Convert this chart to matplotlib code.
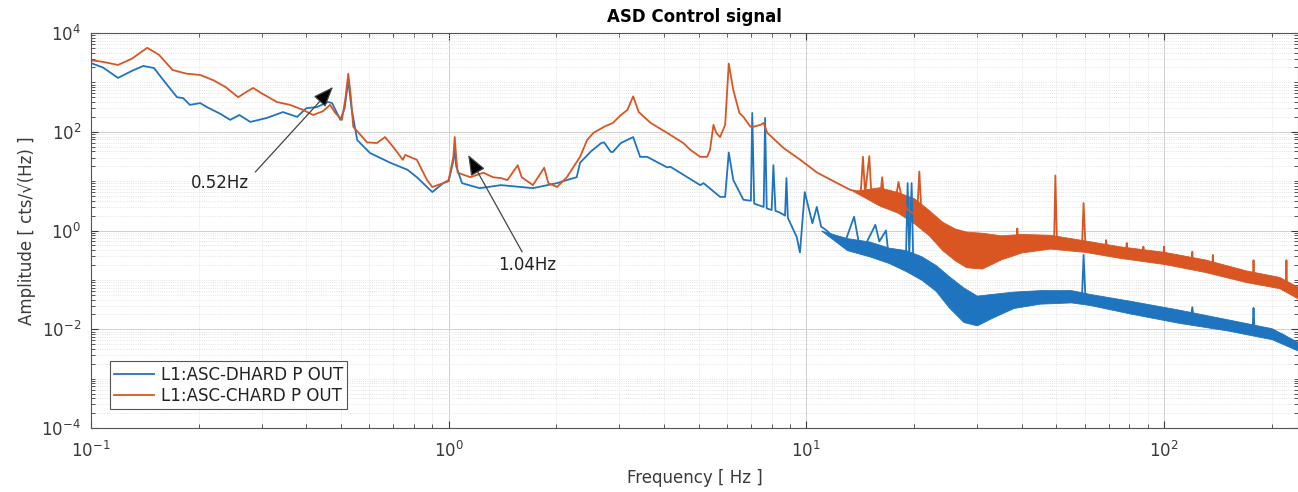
import numpy as np
import matplotlib
matplotlib.use('Agg')
import matplotlib.pyplot as plt
from matplotlib.ticker import LogLocator, FixedLocator, NullFormatter

# ---- data (frequency in Hz, amplitude in cts/sqrt(Hz)) ----
dhard_f = [0.100, 0.108, 0.119, 0.130, 0.140, 0.150, 0.163, 0.174, 0.181, 0.189, 0.202, 0.211,
           0.230, 0.245, 0.260, 0.279, 0.310, 0.344, 0.377, 0.400, 0.428, 0.460, 0.472, 0.498,
           0.512, 0.524, 0.535, 0.555, 0.603, 0.687, 0.767, 0.815, 0.900, 0.966, 1.00, 1.03,
           1.04, 1.05, 1.09, 1.22, 1.29, 1.40, 1.72, 2.01, 2.14, 2.28, 2.33, 2.50, 2.67, 2.72,
           2.84, 2.88, 3.03, 3.28, 3.43, 3.59, 4.08, 4.17, 5.05, 5.16, 5.74, 5.93, 6.07, 6.25,
           6.67, 7.00, 7.06, 7.15, 7.60, 7.67, 7.75, 8.00, 8.09, 8.20, 8.44, 8.72, 8.80, 8.88,
           9.40, 9.60, 9.90, 10.4, 10.7, 11.0, 11.4, 12.7, 13.6, 14.0, 14.4, 15.6, 16.0, 16.7,
           17.0, 19.0, 19.2, 19.4, 19.7, 19.9, 20.4, 22.7, 25.3, 30.1, 34.9, 38.9, 48.0, 57.0,
           59.0, 59.6, 60.3, 62.2, 80.8, 114, 119, 120, 121, 173, 177, 178, 179, 215, 237]
dhard_a = [2450, 2000, 1230, 1700, 2150, 1950, 900, 500, 480, 350, 380, 315,
           230, 174, 218, 158, 190, 250, 200, 300, 315, 400, 380, 174,
           300, 1100, 300, 68, 37, 23.5, 17, 12, 6.0, 9.1, 10, 25,
           45, 20, 9.1, 7.2, 7.6, 8.3, 7.2, 9.1, 10.5, 12, 23.5, 40, 59, 61,
           39, 39, 59, 78, 31, 31, 19, 19.5, 8.3, 9.1, 4.8, 4.8, 38, 10.5,
           4.2, 4.0, 240, 3.5, 3.0, 190, 2.8, 2.6, 21, 2.5, 2.3, 2.0, 11.5, 1.8,
           0.74, 0.36, 6.0, 1.4, 3.0, 1.2, 1.0, 0.47, 1.9, 0.6, 0.41, 1.3, 0.6, 1.0,
           0.29, 0.3, 9.1, 0.3, 9.1, 0.25, 0.18, 0.115, 0.05, 0.026, 0.035, 0.040, 0.046, 0.046,
           0.046, 0.32, 0.045, 0.04, 0.028, 0.018, 0.018, 0.028, 0.017, 0.011, 0.011, 0.027, 0.011,
           0.0078, 0.0044]

chard_f = [0.100, 0.108, 0.119, 0.130, 0.1436, 0.155, 0.169, 0.185, 0.202, 0.220, 0.238, 0.258,
           0.270, 0.284, 0.300, 0.331, 0.360, 0.392, 0.418, 0.445, 0.466, 0.482, 0.503, 0.515,
           0.524, 0.533, 0.541, 0.557, 0.591, 0.630, 0.664, 0.700, 0.745, 0.756, 0.815, 0.870,
           0.900, 0.966, 1.00, 1.03, 1.04, 1.05, 1.06, 1.15, 1.25, 1.33, 1.40, 1.46, 1.56, 1.60,
           1.72, 1.85, 1.90, 2.01, 2.14, 2.33, 2.44, 2.54, 2.72, 2.88, 3.03, 3.16, 3.28, 3.40,
           3.59, 3.67, 4.08, 4.53, 4.74, 5.05, 5.28, 5.38, 5.50, 5.60, 5.74, 5.93, 6.07, 6.25,
           6.50, 6.67, 6.98, 7.11, 7.45, 7.59, 7.78, 8.63, 9.62, 10.7, 11.9, 13.3, 14.2, 14.4,
           14.6, 15.0, 15.2, 16.1, 16.3, 16.5, 17.8, 18.1, 18.5, 19.2, 20.4, 20.7, 21.0, 21.8,
           23.7, 25.3, 28.2, 31.3, 34.9, 38.7, 38.9, 39.1, 43.0, 48.0, 49.3, 49.7, 50.2, 59.0,
           59.6, 60.3, 68.5, 68.9, 69.3, 74.7, 78.3, 78.7, 79.1, 87.2, 87.6, 88.0, 99.5, 100,
           100.5, 114, 119.5, 120, 120.5, 136.5, 137, 137.5, 150, 173, 177.5, 178, 178.5, 215,
           219.5, 220, 220.5, 237]
chard_a = [2800, 2600, 2250, 3000, 5000, 3600, 1780, 1500, 1410, 1100, 800, 500,
           620, 770, 600, 400, 350, 276, 218, 260, 350, 240, 174, 500,
           1500, 500, 126, 100, 61, 59, 78, 49, 27, 34, 27, 10.5,
           7.6, 9.1, 10.5, 30, 78, 30, 14.8, 12, 14.8, 12, 11.5, 10.5, 21, 12,
           8.3, 18.6, 9.1, 7.6, 12, 31, 68, 95, 126, 151, 218, 276, 520, 250,
           174, 151, 95, 59, 43, 31, 31, 43, 138, 95, 78, 138, 2400, 700,
           240, 200, 126, 126, 138, 151, 95, 47, 27, 15, 10, 6.6, 6.0, 31,
           5.5, 32, 5.5, 5.0, 12, 4.5, 4.5, 9.6, 4.5, 2.6, 2.0, 15.6, 2.0, 1.4,
           0.74, 0.54, 0.40, 0.36, 0.47, 0.56, 1.1, 0.56, 0.50, 0.59, 0.6, 13, 0.6, 0.5,
           3.6, 0.5, 0.42, 0.64, 0.42, 0.37, 0.37, 0.56, 0.36, 0.31, 0.47, 0.31, 0.28, 0.47,
           0.28, 0.22, 0.2, 0.37, 0.2, 0.16, 0.32, 0.16, 0.15, 0.115, 0.11, 0.25, 0.11, 0.091,
           0.085, 0.25, 0.085, 0.055]

# envelope (lower / upper edge) of the noisy high-frequency part
dhard_band_f = [11, 13, 15, 17, 19, 21, 23, 25, 27.5, 30, 33, 38, 45, 55, 62, 80, 110, 150, 200, 237]
dhard_band_lo = [1.0, 0.4, 0.3, 0.22, 0.15, 0.1, 0.06, 0.028, 0.014, 0.012, 0.017, 0.027,
                 0.033, 0.035, 0.031, 0.021, 0.0135, 0.0095, 0.0063, 0.0037]
dhard_band_hi = [1.0, 0.7, 0.6, 0.45, 0.4, 0.3, 0.2, 0.12, 0.07, 0.048, 0.052, 0.058,
                 0.062, 0.062, 0.052, 0.038, 0.025, 0.016, 0.0105, 0.0055]

chard_band_f = [13.5, 16, 18, 20, 22, 24, 26, 28, 31, 35, 40, 48, 60, 75, 100, 130, 170, 210, 237]
chard_band_lo = [6.3, 3.2, 2.3, 1.4, 0.8, 0.4, 0.25, 0.18, 0.17, 0.26, 0.36, 0.43, 0.37,
                 0.28, 0.21, 0.145, 0.09, 0.068, 0.042]
chard_band_hi = [6.3, 7.5, 6.0, 4.5, 2.6, 1.5, 1.1, 0.95, 0.9, 0.8, 0.85, 0.82, 0.63,
                 0.48, 0.37, 0.26, 0.155, 0.115, 0.072]

labels = ['L1:ASC-DHARD P OUT', 'L1:ASC-CHARD P OUT']
blue = '#1f74c0'
orange = '#d95622'
text_col = '#3a3a3a'

fig = plt.figure(figsize=(12.98, 4.92), dpi=100)
ax = fig.add_axes([0.0701, 0.130, 0.9299, 0.803])

# DHARD first, CHARD on top
ax.fill_between(dhard_band_f, dhard_band_lo, dhard_band_hi, color=blue, lw=0.6)
ax.plot(dhard_f, dhard_a, color=blue, lw=1.3, label=labels[0])
ax.fill_between(chard_band_f, chard_band_lo, chard_band_hi, color=orange, lw=0.6)
ax.plot(chard_f, chard_a, color=orange, lw=1.3, label=labels[1])

ax.set_xscale('log')
ax.set_yscale('log')
ax.set_xlim(0.1, 237)
ax.set_ylim(1e-4, 1e4)

ax.yaxis.set_major_locator(FixedLocator([1e-4, 1e-2, 1e0, 1e2, 1e4]))
ax.yaxis.set_minor_locator(LogLocator(base=10, subs=np.arange(1, 10), numticks=50))
ax.yaxis.set_minor_formatter(NullFormatter())
ax.xaxis.set_minor_formatter(NullFormatter())

# MATLAB-ish grid
ax.grid(True, which='major', color='#d0d0d0', lw=0.7, ls='-')
ax.grid(True, which='minor', color='#dcdcdc', lw=0.6, ls=':')
ax.set_axisbelow(True)

ax.tick_params(which='both', direction='in', top=True, right=True, colors=text_col,
               labelsize=12)
ax.tick_params(axis='x', which='major', pad=9)
ax.tick_params(axis='y', which='major', pad=7)
ax.tick_params(which='major', length=5)
ax.tick_params(which='minor', length=3)
for s in ax.spines.values():
    s.set_color('#555555')
    s.set_linewidth(0.8)

ax.set_title('ASD Control signal', fontsize=12, fontweight='bold', pad=8)
ax.set_xlabel('Frequency [ Hz ]', fontsize=12, color=text_col, labelpad=6)
ax.set_ylabel('Amplitude [ cts/\u221a(Hz) ]', fontsize=12, color=text_col, labelpad=4)

leg = ax.legend(loc='lower left', bbox_to_anchor=(0.0158, 0.048), borderaxespad=0,
                fontsize=12, fancybox=False, framealpha=1, edgecolor='#555555',
                handlelength=2.4, borderpad=0.25, labelspacing=0.2, handletextpad=0.4)
leg.get_frame().set_linewidth(0.8)
for t in leg.get_texts():
    t.set_color('#222222')

# annotations
arrow = dict(arrowstyle='-|>,head_length=0.9,head_width=0.35', color='#444444',
             lw=0.9, shrinkA=0, shrinkB=0, mutation_scale=14, fc='black')
ax.annotate('', xy=(0.475, 807), xytext=(0.288, 15.3), arrowprops=arrow)
ax.text(0.2296, 9.2, '0.52Hz', fontsize=12, color='#222222', ha='center', va='center')
ax.annotate('', xy=(1.134, 33.9), xytext=(1.605, 0.369), arrowprops=arrow)
ax.text(1.658, 0.2, '1.04Hz', fontsize=12, color='#222222', ha='center', va='center')

plt.savefig('out.png', dpi=100)
plt.close()
